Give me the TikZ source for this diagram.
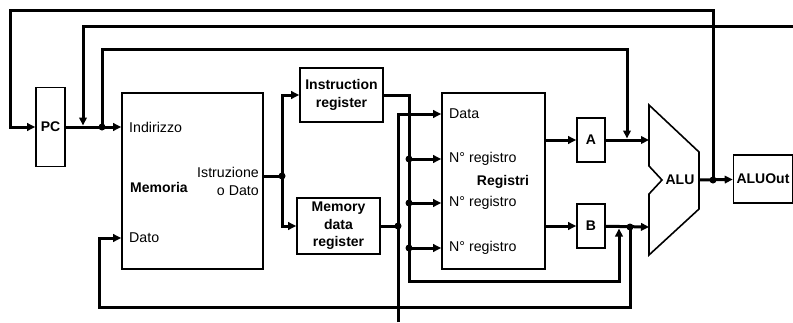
\documentclass[tikz,border=0pt]{standalone}
\usepackage{fontspec}
\setmainfont{Liberation Sans}
\usetikzlibrary{arrows.meta, positioning, calc}

\begin{document}
\begin{tikzpicture}[
    x=1pt, y=-1pt,
    font=\fontsize{14.2}{18}\selectfont,
    unit/.style={rectangle, draw, line width=1.6pt, align=center, inner sep=0pt, font=\fontsize{14}{17.5}\selectfont\bfseries},
    port/.style={inner sep=1pt},
    title/.style={inner sep=1pt, font=\fontsize{14}{17}\selectfont\bfseries},
    wire/.style={line width=3pt},
    arrow/.style={wire, -{Triangle[length=8pt, width=7.5pt]}}
]
\useasboundingbox (0,0) rectangle (793,322);

% units
\node[unit, minimum width=29pt, minimum height=79pt] (pc) at (50.5,127) {PC};
\node[unit, minimum width=141pt, minimum height=176pt] (mem) at (192.5,181) {};
\node[unit, minimum width=83pt, minimum height=54pt] (ir) at (341.5,95) {Instruction\\register};
\node[unit, minimum width=83pt, minimum height=56pt] (mdr) at (338.5,226) {Memory\\data\\register};
\node[unit, minimum width=103pt, minimum height=176pt] (regs) at (493.5,181) {};
\node[unit, minimum width=28pt, minimum height=44pt] (rega) at (591,140) {A};
\node[unit, minimum width=28pt, minimum height=44pt] (regb) at (591,226) {B};
\node[unit, minimum width=59pt, minimum height=48pt] (aluout) at (763,179) {ALUOut};

% ALU
\draw[line width=1.6pt] (649,105) -- (699,152) -- (699,209) -- (649,255) -- (649,194) -- (662,180) -- (649,166) -- cycle;
\node[title] (alu) at (680,180) {ALU};
\coordinate (alua) at (649,140);
\coordinate (alub) at (649,227);
\coordinate (aluo) at (699,180);

% labels inside memory and register file
\node[port, anchor=west] (addr) at (128,127) {Indirizzo};
\node[title] (memname) at (159,187) {Memoria};
\node[port, anchor=east, align=right] (memout) at (260,181) {Istruzione\\o Dato};
\node[port, anchor=west] (wdat) at (128,238) {Dato};
\node[port, anchor=west] (rdata) at (448,114) {Data};
\node[port, anchor=west] (rreg1) at (448,159) {N° registro};
\node[port, anchor=west] (rreg2) at (448,203) {N° registro};
\node[port, anchor=west] (rreg3) at (448,248) {N° registro};
\node[title] (regname) at (503,182) {Registri};

% junctions
\coordinate (ctop) at (10,10);
\coordinate (jpc) at (102,127);
\coordinate (jmp) at (83,127);
\coordinate (jmpin) at (793,26);
\coordinate (jain) at (627,140);
\coordinate (jmem) at (282,176);
\coordinate (jreg) at (409,281);
\coordinate (jr1) at (409,159);
\coordinate (jr2) at (409,203);
\coordinate (jr3) at (409,248);
\coordinate (jmdr) at (398,226);
\coordinate (mdrout) at (398,322);
\coordinate (jbin) at (619,227);
\coordinate (jb) at (630,227);
\coordinate (cbot) at (99,307);
\coordinate (jalu) at (713,180);

% wires
\draw[arrow] (pc) -- (pc -| mem.west);
\draw[arrow] (jalu) |- (ctop) |- (pc);
\draw[arrow, shorten >=1.5pt] (jmpin) -| (jmp);
\draw[arrow, shorten >=1.5pt] (jpc) -- ++(0,-78) -| (jain);
\draw[wire] (mem.east |- jmem) -- (jmem);
\draw[arrow] (jmem) |- (ir);
\draw[arrow] (jmem) |- (mdr);
\draw[arrow, shorten >=1.5pt] (ir) -| (jreg) -| (jbin);
\foreach \j/\r in {jr1/rreg1, jr2/rreg2, jr3/rreg3}
    \draw[arrow] (\j) -- (regs.west |- \r);
\draw[wire] (mdr) -- (jmdr);
\draw[arrow] (mdrout) |- (regs.west |- rdata);
\draw[arrow] (regs.east |- rega) -- (rega);
\draw[arrow] (regs.east |- regb) -- (regb);
\draw[arrow] (rega) -- (alua);
\draw[arrow] (regb) -- (alub);
\draw[arrow] (aluo) -- (aluout);
\draw[arrow] (jb) |- (cbot) |- (mem.west |- wdat);

\foreach \p in {jpc, jmem, jr1, jr2, jr3, jmdr, jb, jalu}
    \fill (\p) circle (3.5pt);

\end{tikzpicture}
\end{document}
